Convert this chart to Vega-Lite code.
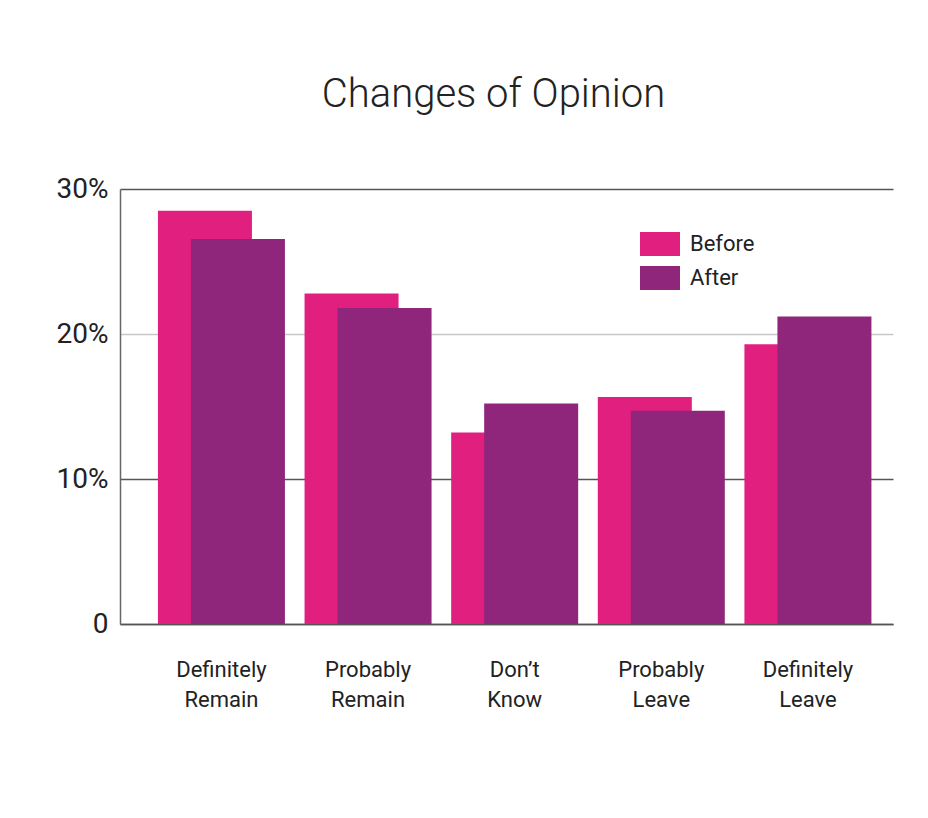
{
  "$schema": "https://vega.github.io/schema/vega-lite/v6.json",
  "width": 773,
  "height": 435,
  "autosize": {"type": "none"},
  "padding": {"left": 120, "top": 189, "right": 35, "bottom": 194},
  "background": "white",
  "title": {"text": "Changes of Opinion", "fontSize": 40, "font": "Roboto", "fontWeight": 300, "color": "#222222", "offset": 60, "dx": -13, "anchor": "middle"},
  "data": {"values": [
    {"category": "Definitely Remain", "period": "Before", "value": 28.5},
    {"category": "Definitely Remain", "period": "After", "value": 26.55},
    {"category": "Probably Remain", "period": "Before", "value": 22.8},
    {"category": "Probably Remain", "period": "After", "value": 21.8},
    {"category": "Don’t Know", "period": "Before", "value": 13.2},
    {"category": "Don’t Know", "period": "After", "value": 15.2},
    {"category": "Probably Leave", "period": "Before", "value": 15.65},
    {"category": "Probably Leave", "period": "After", "value": 14.7},
    {"category": "Definitely Leave", "period": "Before", "value": 19.3},
    {"category": "Definitely Leave", "period": "After", "value": 21.2}
  ]},
  "encoding": {
    "x": {
      "field": "category", "type": "nominal",
      "sort": ["Definitely Remain", "Probably Remain", "Don’t Know", "Probably Leave", "Definitely Leave"],
      "scale": {"paddingInner": 0, "paddingOuter": 0.136, "align": 0.705},
      "axis": {"title": null, "labelAngle": 0, "labelExpr": "split(datum.label, ' ')", "labelLineHeight": 30, "labelFontSize": 22, "labelFont": "Roboto", "labelColor": "#222222", "labelPadding": 35, "ticks": false, "domainColor": "#555555", "domainWidth": 1.5}
    },
    "y": {
      "field": "value", "type": "quantitative",
      "scale": {"domain": [0, 30]},
      "axis": {"title": null, "values": [0, 10, 20, 30], "labelExpr": "datum.value == 0 ? '0' : datum.value + '%'", "labelFontSize": 28, "labelFont": "Roboto", "labelColor": "#222222", "labelPadding": 12, "ticks": false, "domainColor": "#666666", "domainWidth": 1.5, "grid": true, "gridColor": {"expr": "datum.value === 20 ? '#c8c8c8' : '#555555'"}, "gridWidth": 1.5}
    },
    "color": {
      "field": "period", "type": "nominal",
      "scale": {"domain": ["Before", "After"], "range": ["#e11f7f", "#8f267c"]},
      "legend": {"title": null, "orient": "none", "legendX": 520, "legendY": 35, "symbolType": "M-1,-0.6H1V0.6H-1Z", "symbolSize": 1600, "symbolStrokeWidth": 0, "symbolOpacity": 1, "labelFontSize": 22, "labelFont": "Roboto", "labelColor": "#222222", "labelOffset": 10, "rowPadding": 2}
    }
  },
  "layer": [
    {"transform": [{"filter": "datum.period === 'Before'"}], "mark": {"type": "bar", "width": 94, "xOffset": -16.5}},
    {"transform": [{"filter": "datum.period === 'After'"}], "mark": {"type": "bar", "width": 94, "xOffset": 16.5}}
  ],
  "config": {"view": {"stroke": null}}
}
